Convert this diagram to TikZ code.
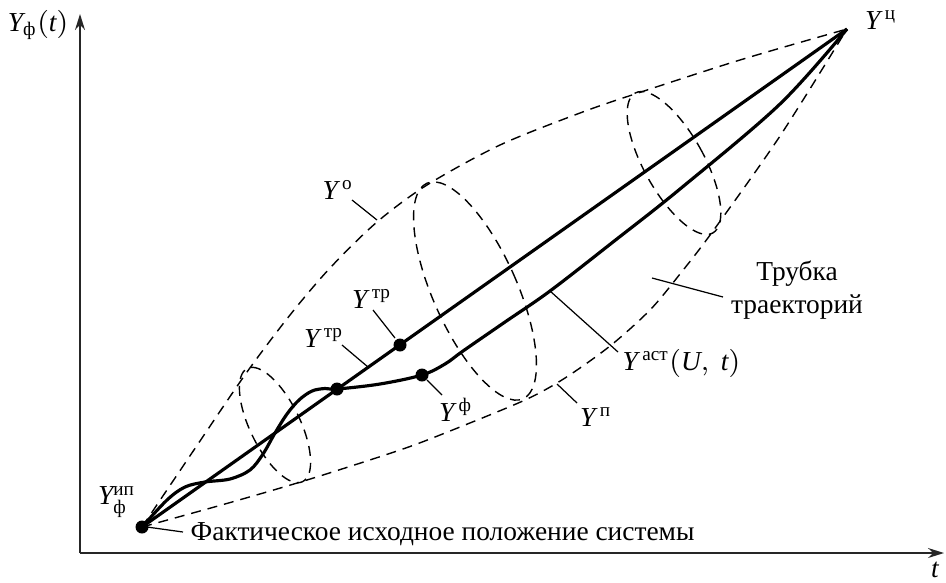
\documentclass[tikz,border=0pt]{standalone}
\usepackage{amsmath}
\usepackage{fontspec}
\setmainfont{Liberation Serif}
\usepackage{tikz}
\usetikzlibrary{arrows.meta}
\tikzset{
  axis/.style={-{Stealth[length=1.6mm,width=1mm]}, line width=0.45pt, black!85},
  traj/.style={line width=0.9pt},
  tube/.style={dash pattern=on 1mm off 0.7mm, line width=0.4pt},
  leader/.style={line width=0.35pt},
  pt/.style={circle, fill, inner sep=0pt, minimum size=1.3mm},
  lbl/.style={inner sep=0pt, font=\fontsize{7.8}{9.4}\selectfont}
}

\begin{document}
\begin{tikzpicture}[x=0.1mm, y=-0.1mm]
\useasboundingbox (0,0) rectangle (946,582);

% axes
\coordinate (O)    at (80,553);
\coordinate (yend) at (80,14);
\coordinate (xend) at (944,553);
\draw[axis] (O) -- (yend);
\draw[axis] (O) -- (xend);
\node[lbl] (ylab) at (38,25)  {$\mathit{Y}_{\text{ф}}(\mathit{t})$};
\node[lbl] (tlab) at (935,570) {$\mathit{t}$};

% start, goal and points on the trajectories
\coordinate (S)   at (142,527);
\coordinate (E)   at (847,29);
\coordinate (Pm)  at (337,389);
\coordinate (Ptr) at (400,345);
\coordinate (Pf)  at (422,375);

% tube of trajectories
\draw[tube] plot[smooth] coordinates {(S) (200,441) (247,372) (290,315) (330,268)
  (377,222) (427,185) (500,145) (580,113) (635,94) (740,60) (E)};
\draw[tube] plot[smooth] coordinates {(S) (225,504) (307,480) (400,450) (450,431)
  (525,400) (565,378) (610,346) (650,310) (680,274) (713,231) (780,136) (E)};
\draw[tube, rotate around={26:(275,425)}] (275,425) ellipse [x radius=25, y radius=63];
\draw[tube, rotate around={24:(475,291)}] (475,291) ellipse [x radius=42, y radius=118];
\draw[tube, rotate around={29:(674,163)}] (674,163) ellipse [x radius=30, y radius=80];

% trajectories
\draw[traj] (S) -- (E);
\draw[traj] plot[smooth, tension=0.55] coordinates {(S) (167,500) (185,487) (205,482)
  (230,479) (250,470) (263,454) (275,433) (287,414) (299,400) (312,391) (325,388.5)
  (Pm) (380,384) (Pf) (445,364) (463,351) (505,322) (550,291) (613,242) (680,189)
  (780,104) (E)};

% points
\node[pt] (dotS)  at (S)   {};
\node[pt] (dotM)  at (Pm)  {};
\node[pt] (dotTr) at (Ptr) {};
\node[pt] (dotF)  at (Pf)  {};

% labels
\node[lbl] (lc)   at (881,20)  {$\mathit{Y}^{\,\text{ц}}$};
\node[lbl] (lo)   at (338,190) {$\mathit{Y}^{\,\text{о}}$};
\node[lbl] (ltra) at (372,299) {$\mathit{Y}^{\,\text{тр}}$};
\node[lbl] (ltrb) at (324,338) {$\mathit{Y}^{\,\text{тр}}$};
\node[lbl] (lf)   at (456,410) {$\mathit{Y}^{\,\text{ф}}$};
\node[lbl] (lp)   at (596,417) {$\mathit{Y}^{\,\text{п}}$};
\node[lbl, anchor=west] (last) at (622,363) {$\mathit{Y}^{\,\text{аст}}(\mathit{U},\ \mathit{t})$};
\node[lbl, align=center] (ltube) at (797,290) {Трубка\\траекторий};
\node[lbl] (lip)  at (117,502) {$\mathit{Y}^{\text{ип}}_{\text{ф}}$};
\node[lbl, anchor=west] (lstart) at (190,534) {Фактическое исходное положение системы};

% leaders
\coordinate (tO)  at (377,220); \coordinate (eO)  at (352,200);
\coordinate (tTa) at (395,338); \coordinate (eTa) at (373,310);
\coordinate (tTb) at (368,367); \coordinate (eTb) at (342,345);
\coordinate (tF)  at (427,380); \coordinate (eF)  at (442,395);
\coordinate (tP)  at (557,384); \coordinate (eP)  at (577,403);
\coordinate (tA)  at (550,291); \coordinate (eA)  at (618,352);
\coordinate (tT)  at (652,278); \coordinate (eT)  at (723,297);
\coordinate (tS)  at (147,527); \coordinate (eS)  at (183,532);
\foreach \a/\b in {tO/eO, tTa/eTa, tTb/eTb, tF/eF, tP/eP, tA/eA, tT/eT, tS/eS}
  \draw[leader] (\a) -- (\b);

\end{tikzpicture}
\end{document}
